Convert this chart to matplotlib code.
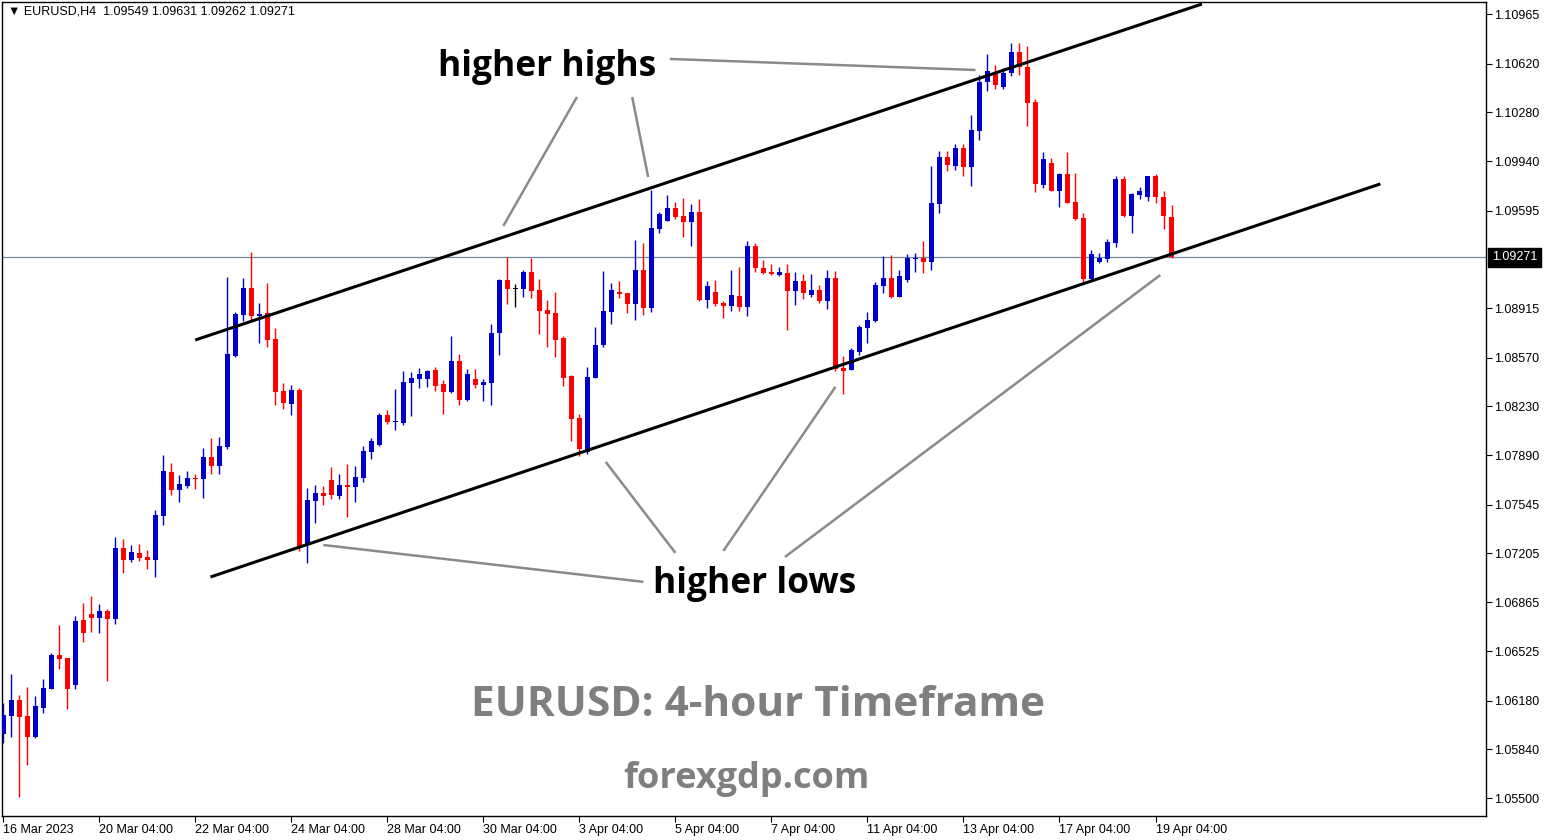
import numpy as np
import matplotlib
matplotlib.use('Agg')
import matplotlib.pyplot as plt
import matplotlib.transforms as mtransforms

# H4 EURUSD candles, 16 Mar 2023 04:00 .. 19 Apr 2023 12:00
opens = [1.05945, 1.06075, 1.06184, 1.06075, 1.05928, 1.06130, 1.06263, 1.06498, 1.06477, 1.06291,
         1.06742, 1.06783, 1.06758, 1.06804, 1.06749, 1.07243, 1.07162, 1.07209, 1.07183, 1.07162,
         1.07469, 1.07773, 1.07650, 1.07678, 1.07731, 1.07726, 1.07876, 1.07817, 1.07945, 1.08584,
         1.08869, 1.09054, 1.08863, 1.08881, 1.08700, 1.08338, 1.08249, 1.08345, 1.07271, 1.07573,
         1.07627, 1.07717, 1.07608, 1.07683, 1.07671, 1.07734, 1.07915, 1.07964, 1.08171, 1.08124,
         1.08113, 1.08396, 1.08423, 1.08423, 1.08484, 1.08387, 1.08333, 1.08547, 1.08275, 1.08421,
         1.08382, 1.08396, 1.08744, 1.09111, 1.09051, 1.09051, 1.09167, 1.09042, 1.08904, 1.08881,
         1.08707, 1.08442, 1.08147, 1.07915, 1.08430, 1.08658, 1.08890, 1.09028, 1.09021, 1.08946,
         1.09181, 1.08918, 1.09469, 1.09525, 1.09613, 1.09558, 1.09518, 1.09585, 1.08974, 1.09028,
         1.08951, 1.08932, 1.09000, 1.08925, 1.09348, 1.09195, 1.09167, 1.09148, 1.09160, 1.09037,
         1.09104, 1.09009, 1.09042, 1.08967, 1.09125, 1.08498, 1.08486, 1.08612, 1.08779, 1.08828,
         1.09072, 1.09125, 1.08995, 1.09109, 1.09258, 1.09265, 1.09239, 1.09643, 1.09969, 1.09906,
         1.10031, 1.09901, 1.10152, 1.10494, 1.10547, 1.10459, 1.10552, 1.10701, 1.10598, 1.10352,
         1.09776, 1.09927, 1.09734, 1.09850, 1.09655, 1.09544, 1.09120, 1.09239, 1.09258, 1.09371,
         1.09815, 1.09560, 1.09706, 1.09692, 1.09836, 1.09690, 1.09549]
highs = [1.06161, 1.06365, 1.06219, 1.06277, 1.06212, 1.06330, 1.06512, 1.06707, 1.06477, 1.06770,
         1.06862, 1.06909, 1.06853, 1.06818, 1.07320, 1.07306, 1.07264, 1.07271, 1.07232, 1.07508,
         1.07892, 1.07836, 1.07752, 1.07780, 1.07759, 1.07938, 1.08008, 1.08017, 1.09134, 1.08890,
         1.09127, 1.09307, 1.08953, 1.09088, 1.08775, 1.08391, 1.08380, 1.08359, 1.07662, 1.07683,
         1.07676, 1.07808, 1.07759, 1.07829, 1.07815, 1.07954, 1.08010, 1.08184, 1.08205, 1.08352,
         1.08477, 1.08470, 1.08498, 1.08486, 1.08505, 1.08414, 1.08721, 1.08596, 1.08491, 1.08491,
         1.08421, 1.08805, 1.09116, 1.09274, 1.09081, 1.09181, 1.09265, 1.09118, 1.08972, 1.09030,
         1.08723, 1.08449, 1.08179, 1.08503, 1.08784, 1.09174, 1.09091, 1.09105, 1.09021, 1.09390,
         1.09369, 1.09739, 1.09585, 1.09704, 1.09655, 1.09683, 1.09641, 1.09676, 1.09105, 1.09111,
         1.08965, 1.09181, 1.09204, 1.09383, 1.09367, 1.09251, 1.09223, 1.09202, 1.09223, 1.09167,
         1.09153, 1.09153, 1.09077, 1.09181, 1.09174, 1.08582, 1.08635, 1.08798, 1.08888, 1.09098,
         1.09279, 1.09286, 1.09181, 1.09291, 1.09300, 1.09383, 1.09906, 1.10011, 1.10011, 1.10059,
         1.10059, 1.10261, 1.10540, 1.10687, 1.10610, 1.10587, 1.10763, 1.10763, 1.10744, 1.10373,
         1.10004, 1.09962, 1.09857, 1.10004, 1.09857, 1.09580, 1.09321, 1.09298, 1.09395, 1.09836,
         1.09836, 1.09718, 1.09758, 1.09836, 1.09850, 1.09732, 1.09631]
lows = [1.05882, 1.05928, 1.05510, 1.05731, 1.05921, 1.06096, 1.06261, 1.06402, 1.06123, 1.06259,
        1.06590, 1.06660, 1.06653, 1.06319, 1.06716, 1.07071, 1.07148, 1.07155, 1.07099, 1.07043,
        1.07406, 1.07615, 1.07566, 1.07664, 1.07655, 1.07594, 1.07761, 1.07761, 1.07933, 1.08573,
        1.08826, 1.08833, 1.08674, 1.08647, 1.08242, 1.08210, 1.08173, 1.07220, 1.07137, 1.07420,
        1.07545, 1.07583, 1.07583, 1.07457, 1.07566, 1.07706, 1.07866, 1.07957, 1.08106, 1.08068,
        1.08103, 1.08166, 1.08361, 1.08368, 1.08340, 1.08180, 1.08326, 1.08242, 1.08266, 1.08361,
        1.08268, 1.08242, 1.08589, 1.08946, 1.08925, 1.08990, 1.08984, 1.08737, 1.08647, 1.08577,
        1.08375, 1.07991, 1.07887, 1.07897, 1.08430, 1.08647, 1.08807, 1.08988, 1.08884, 1.08835,
        1.08870, 1.08891, 1.09441, 1.09525, 1.09539, 1.09413, 1.09348, 1.08967, 1.08918, 1.08932,
        1.08849, 1.08897, 1.08895, 1.08863, 1.09169, 1.09151, 1.09148, 1.09138, 1.08765, 1.08939,
        1.08981, 1.08995, 1.08949, 1.08911, 1.08479, 1.08319, 1.08486, 1.08591, 1.08674, 1.08817,
        1.09023, 1.08984, 1.08995, 1.09095, 1.09169, 1.09162, 1.09181, 1.09580, 1.09873, 1.09880,
        1.09838, 1.09769, 1.10089, 1.10429, 1.10445, 1.10445, 1.10533, 1.10542, 1.10187, 1.09727,
        1.09755, 1.09734, 1.09622, 1.09650, 1.09532, 1.09099, 1.09111, 1.09228, 1.09239, 1.09344,
        1.09548, 1.09437, 1.09678, 1.09664, 1.09650, 1.09467, 1.09262]
closes = [1.06079, 1.06184, 1.06068, 1.05928, 1.06142, 1.06268, 1.06498, 1.06472, 1.06263, 1.06735,
          1.06653, 1.06758, 1.06804, 1.06749, 1.07243, 1.07162, 1.07216, 1.07176, 1.07162, 1.07473,
          1.07780, 1.07650, 1.07690, 1.07731, 1.07727, 1.07876, 1.07817, 1.07952, 1.08596, 1.08874,
          1.09054, 1.08863, 1.08874, 1.08695, 1.08333, 1.08256, 1.08345, 1.07252, 1.07578, 1.07629,
          1.07608, 1.07615, 1.07683, 1.07671, 1.07738, 1.07922, 1.07989, 1.08171, 1.08124, 1.08129,
          1.08400, 1.08428, 1.08456, 1.08479, 1.08375, 1.08333, 1.08547, 1.08275, 1.08456, 1.08380,
          1.08400, 1.08742, 1.09111, 1.09051, 1.09051, 1.09167, 1.09035, 1.08897, 1.08877, 1.08695,
          1.08430, 1.08145, 1.07936, 1.08435, 1.08658, 1.08895, 1.09042, 1.09016, 1.08946, 1.09181,
          1.08918, 1.09474, 1.09571, 1.09613, 1.09553, 1.09518, 1.09585, 1.08974, 1.09070, 1.08946,
          1.08932, 1.09007, 1.08925, 1.09348, 1.09197, 1.09162, 1.09155, 1.09167, 1.09037, 1.09104,
          1.09023, 1.09042, 1.08967, 1.09125, 1.08489, 1.08479, 1.08624, 1.08784, 1.08833, 1.09077,
          1.09125, 1.08995, 1.09139, 1.09265, 1.09265, 1.09237, 1.09648, 1.09969, 1.09915, 1.10031,
          1.09901, 1.10157, 1.10494, 1.10568, 1.10473, 1.10554, 1.10701, 1.10598, 1.10347, 1.09783,
          1.09955, 1.09734, 1.09850, 1.09650, 1.09539, 1.09120, 1.09293, 1.09265, 1.09376, 1.09815,
          1.09560, 1.09711, 1.09732, 1.09836, 1.09692, 1.09560, 1.09271]

last_price = 1.09271

date_ticks = [0, 12, 24, 36, 48, 60, 72, 84, 96, 108, 120, 132, 144]
date_labels = ['16 Mar 2023', '20 Mar 04:00', '22 Mar 04:00', '24 Mar 04:00', '28 Mar 04:00',
               '30 Mar 04:00', '3 Apr 04:00', '5 Apr 04:00', '7 Apr 04:00', '11 Apr 04:00',
               '13 Apr 04:00', '17 Apr 04:00', '19 Apr 04:00']
price_ticks = [1.10965, 1.10620, 1.10280, 1.09940, 1.09595, 1.08915, 1.08570, 1.08230,
               1.07890, 1.07545, 1.07205, 1.06865, 1.06525, 1.06180, 1.05840, 1.05500]

# channel lines (bar index, price)
upper_channel = [(24.0, 1.08693), (149.8, 1.11035)]
lower_channel = [(25.9, 1.07041), (172.1, 1.09781)]

# pointer lines from the labels to the swing points
highs_pointers = [[(83.3, 1.10652), (121.5, 1.10575)],
                  [(71.7, 1.10387), (62.5, 1.09488)],
                  [(78.6, 1.10387), (80.6, 1.09829)]]
lows_pointers = [[(80.0, 1.07007), (40.0, 1.07264)],
                 [(84.0, 1.07209), (75.3, 1.07843)],
                 [(90.0, 1.07223), (104.0, 1.08366)],
                 [(97.7, 1.07181), (144.6, 1.09146)]]

plt.rcParams['font.family'] = ['Liberation Sans', 'DejaVu Sans']

fig = plt.figure(figsize=(15.5, 8.4), dpi=100)
ax = fig.add_axes([2 / 1550, 1 - 816 / 840, 1484 / 1550, 814 / 840])

o = np.array(opens)
h = np.array(highs)
l = np.array(lows)
c = np.array(closes)
x = np.arange(len(o))

colors = np.where(c > o, '#0000CD', np.where(c < o, '#FF0000', '#000000'))

ax.axhline(last_price, color='#778899', lw=0.9, zorder=1)
ax.vlines(x, l, h, colors=colors, lw=1.0, zorder=2)
body_low = np.minimum(o, c)
body_h = np.maximum(np.abs(c - o), 0.00006)
ax.bar(x, body_h, bottom=body_low, width=0.62, color=colors, linewidth=0, zorder=3)

for line in (upper_channel, lower_channel):
    xs, ys = zip(*line)
    ax.plot(xs, ys, color='black', lw=2.2, zorder=4, solid_capstyle='butt')

for line in highs_pointers + lows_pointers:
    xs, ys = zip(*line)
    ax.plot(xs, ys, color='#8a8a8a', lw=1.8, zorder=4, solid_capstyle='butt')

ax.set_xlim(-0.15, 185.3)
ax.set_ylim(1.05375, 1.11049)

ax.yaxis.tick_right()
ax.set_yticks(price_ticks)
ax.set_yticklabels([f'{p:.5f}' for p in price_ticks])
ax.set_xticks(date_ticks)
ax.set_xticklabels(date_labels, ha='left')
ax.tick_params(axis='both', labelsize=9, length=4, width=0.8, pad=2, colors='black')
for s in ax.spines.values():
    s.set_linewidth(1.0)

trans = mtransforms.blended_transform_factory(ax.transAxes, ax.transData)
ax.text(1.004, last_price, '1.09271', transform=trans, ha='left', va='center',
        fontsize=9, color='white',
        bbox=dict(boxstyle='square,pad=0.28', fc='black', ec='black'))

fig.text(8 / 1550, 1 - 12 / 840, '\u25bc EURUSD,H4  1.09549 1.09631 1.09262 1.09271',
         fontsize=9, va='center', ha='left', color='black')

fig.text(547 / 1550, 1 - 67 / 840, 'higher highs', fontsize=25.5, fontweight='bold',
         family='Open Sans', ha='center', va='center', color='black')
fig.text(755 / 1550, 1 - 584 / 840, 'higher lows', fontsize=25.5, fontweight='bold',
         family='Open Sans', ha='center', va='center', color='black')
fig.text(758 / 1550, 1 - 706 / 840, 'EURUSD: 4-hour Timeframe', fontsize=30.5,
         fontweight='bold', family='Open Sans', ha='center', va='center', color='#7f7f7f')
fig.text(746 / 1550, 1 - 779 / 840, 'forexgdp.com', fontsize=26, fontweight='bold',
         family='Open Sans', ha='center', va='center', color='#7f7f7f')

fig.savefig('out.png', dpi=100, facecolor='white')
